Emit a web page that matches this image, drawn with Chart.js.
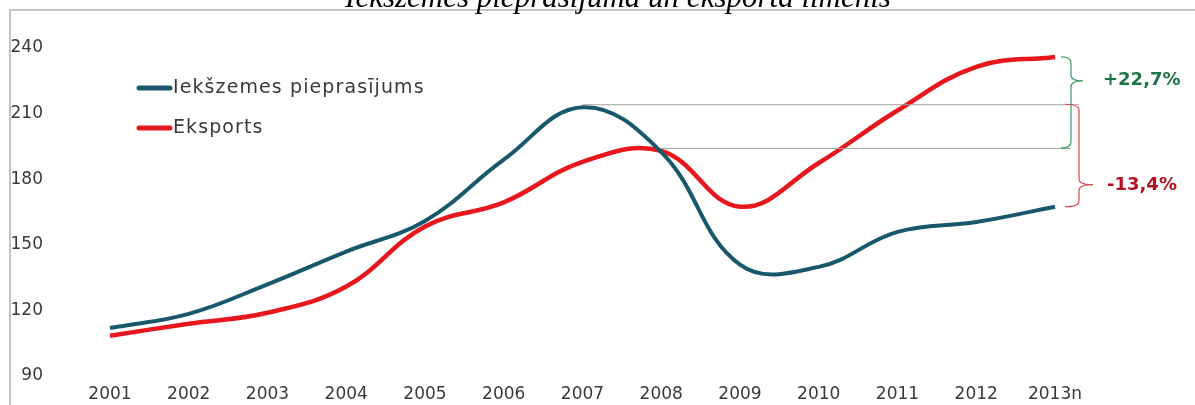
<!DOCTYPE html>
<html>
<head>
<meta charset="utf-8">
<script src="https://cdn.jsdelivr.net/npm/chart.js@4.4.1/dist/chart.umd.min.js"></script>
<style>
  html, body { margin: 0; padding: 0; background: #ffffff; }
  #wrap { position: relative; width: 1195px; height: 405px; }
</style>
</head>
<body>
<div id="wrap"><canvas id="c" width="1195" height="405"></canvas></div>
<script>
// ---- data ----
const titleText = 'Iekšzemes pieprasījuma un eksporta līmenis';
const years = ['2001','2002','2003','2004','2005','2006','2007','2008','2009','2010','2011','2012','2013n'];
const domesticLabel = 'Iekšzemes pieprasījums';
const domestic = [111, 117.5, 131, 146, 160, 188, 212, 191.5, 140, 139, 155, 159.5, 166.5];
const exportLabel = 'Eksports';
const exportsSeries = [107.5, 113, 118, 130, 157.5, 168.5, 187, 192, 166.5, 186.5, 210.5, 230.5, 235];
const yTicks = [90, 120, 150, 180, 210, 240];
const growthLabel = '+22,7%';
const dropLabel = '-13,4%';

const TEAL = '#17596b';
const RED = '#e8161d';
const TXT = '#3a3a3a';
const FONT = '"DejaVu Sans", sans-serif';

const decor = {
  id: 'decor',
  beforeDraw(chart) {
    const ctx = chart.ctx;
    ctx.save();
    ctx.fillStyle = '#ffffff';
    ctx.fillRect(0, 0, chart.width, chart.height);
    // frame
    ctx.strokeStyle = '#c4c4c4';
    ctx.lineWidth = 2;
    ctx.beginPath();
    ctx.moveTo(10, chart.height);
    ctx.lineTo(10, 10);
    ctx.lineTo(chart.width, 10);
    ctx.stroke();
    // title (clipped at top as in reference)
    ctx.fillStyle = '#000000';
    ctx.font = 'italic 31px "Liberation Serif", serif';
    ctx.textAlign = 'center';
    ctx.textBaseline = 'alphabetic';
    ctx.fillText(titleText, 618, 7);
    ctx.restore();
  },
  afterDatasetsDraw(chart) {
    const ctx = chart.ctx;
    const x = chart.scales.x, y = chart.scales.y;
    const n = years.length - 1;
    const xEnd = x.getPixelForValue(n);
    const peakDom = Math.max(...domestic);
    const iPeakDom = domestic.indexOf(peakDom);
    const peakExp = exportsSeries[7];
    const yUp = y.getPixelForValue(peakDom) - 3;
    const yLow = y.getPixelForValue(peakExp) - 3;
    const yExpEnd = y.getPixelForValue(exportsSeries[n]);
    const yDomEnd = y.getPixelForValue(domestic[n]);
    ctx.save();
    // reference lines
    ctx.strokeStyle = '#a3a3a3';
    ctx.lineWidth = 1;
    ctx.beginPath();
    ctx.moveTo(x.getPixelForValue(iPeakDom), yUp + 0.5);
    ctx.lineTo(xEnd + 24, yUp + 0.5);
    ctx.moveTo(x.getPixelForValue(7), yLow + 0.5);
    ctx.lineTo(xEnd + 16, yLow + 0.5);
    ctx.stroke();
    // braces
    function brace(bx, yTop, yBot, yCusp, wl, wr, color) {
      const r = 6;
      ctx.strokeStyle = color;
      ctx.lineWidth = 1.2;
      ctx.beginPath();
      ctx.moveTo(bx - wl, yTop);
      ctx.quadraticCurveTo(bx, yTop, bx, yTop + r);
      ctx.lineTo(bx, yCusp - r);
      ctx.quadraticCurveTo(bx, yCusp, bx + wr, yCusp);
      ctx.quadraticCurveTo(bx, yCusp, bx, yCusp + r);
      ctx.lineTo(bx, yBot - r);
      ctx.quadraticCurveTo(bx, yBot, bx - wl, yBot);
      ctx.stroke();
    }
    brace(xEnd + 16, yExpEnd, yLow, yExpEnd + 24, 10, 12, '#3f9a62');
    brace(xEnd + 24, yUp, yDomEnd, yDomEnd - 22, 14, 14, '#d9464e');
    ctx.font = 'bold 18px ' + FONT;
    ctx.textAlign = 'left';
    ctx.textBaseline = 'middle';
    ctx.fillStyle = '#1d7446';
    ctx.fillText(growthLabel, xEnd + 48, yExpEnd + 23);
    ctx.fillStyle = '#b3121f';
    ctx.fillText(dropLabel, xEnd + 52, yDomEnd - 21);
    // legend
    const items = chart.data.datasets;
    items.forEach((ds, i) => {
      const ly = 88 + i * 40;
      ctx.strokeStyle = ds.borderColor;
      ctx.lineWidth = 5;
      ctx.lineCap = 'round';
      ctx.beginPath();
      ctx.moveTo(139, ly);
      ctx.lineTo(170, ly);
      ctx.stroke();
      ctx.fillStyle = TXT;
      ctx.font = '19px ' + FONT;
      if ('letterSpacing' in ctx) ctx.letterSpacing = '1.1px';
      ctx.textAlign = 'left';
      ctx.textBaseline = 'middle';
      ctx.fillText(ds.label, 173, ly);
      if ('letterSpacing' in ctx) ctx.letterSpacing = '0px';
    });
    ctx.restore();
  }
};

new Chart(document.getElementById('c'), {
  type: 'line',
  data: {
    labels: years,
    datasets: [
      { label: domesticLabel, data: domestic, borderColor: TEAL, backgroundColor: TEAL,
        borderWidth: 4, tension: 0.4, pointRadius: 0, fill: false, clip: 6 },
      { label: exportLabel, data: exportsSeries, borderColor: RED, backgroundColor: RED,
        borderWidth: 4.5, tension: 0.4, pointRadius: 0, fill: false, clip: 6 }
    ]
  },
  options: {
    responsive: false,
    animation: false,
    events: [],
    layout: { padding: { top: 46, right: 140, left: 10, bottom: 0 } },
    plugins: { legend: { display: false }, title: { display: false }, tooltip: { enabled: false } },
    scales: {
      x: {
        offset: false,
        grid: { display: false, drawTicks: false },
        border: { display: false },
        ticks: { color: TXT, font: { family: FONT, size: 17 }, padding: 10, maxRotation: 0, autoSkip: false },
        afterFit(s) { s.height = 31; }
      },
      y: {
        min: 90, max: 240,
        afterBuildTicks(s) { s.ticks = yTicks.map(v => ({ value: v })); },
        grid: { display: false, drawTicks: false },
        border: { display: false },
        ticks: { color: TXT, font: { family: FONT, size: 17 }, padding: 67, labelOffset: 2 },
        afterFit(s) { s.width = 100; s.paddingTop = 0; s.paddingBottom = 0; }
      }
    }
  },
  plugins: [decor]
});
</script>
</body>
</html>
